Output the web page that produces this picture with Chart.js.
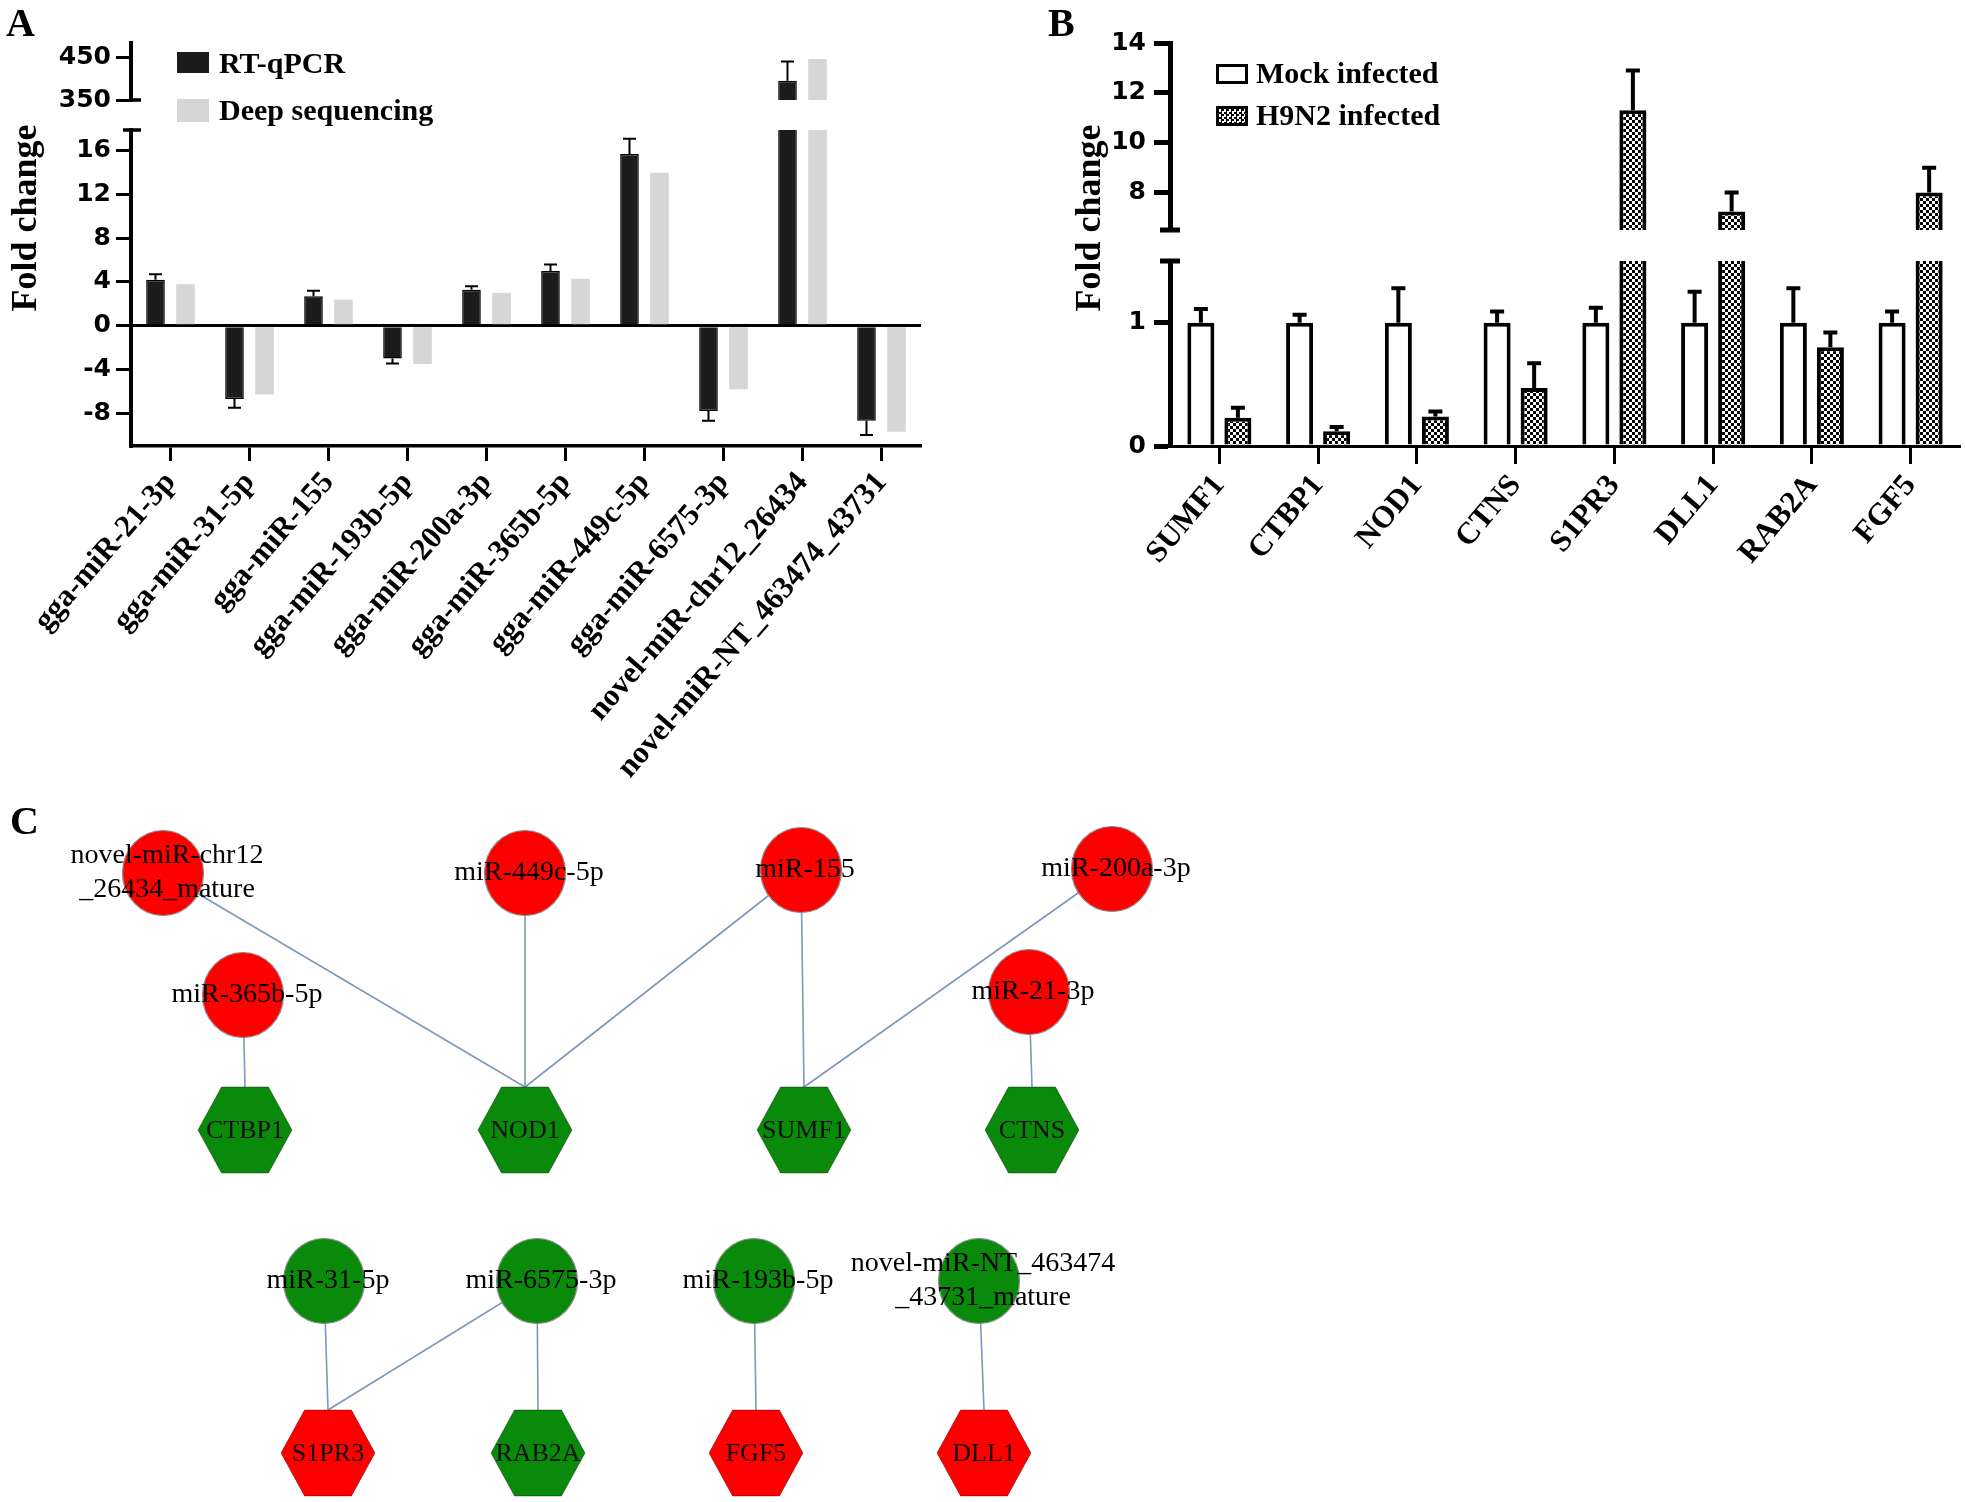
<!DOCTYPE html>
<html>
<head>
<meta charset="utf-8">
<script src="https://cdn.jsdelivr.net/npm/chart.js@4.4.1/dist/chart.umd.min.js"></script>
<style>
html, body { margin: 0; padding: 0; background: #fff; }
#page { position: relative; width: 1965px; height: 1502px; overflow: hidden; background: #fff; }
#page canvas { position: absolute; left: 0; top: 0; }
.txt { position: absolute; font-family: "Liberation Serif", "Times New Roman", serif; font-weight: bold; color: #000; white-space: nowrap; line-height: 1; z-index: 5; }
.panel { font-size: 40px; }
.leg { font-size: 30px; }
.ytitle { font-size: 36px; transform: translate(-50%, -50%) rotate(-90deg); }
.sw { position: absolute; box-sizing: border-box; z-index: 5; }
</style>
</head>
<body>
<div id="page">
  <canvas id="aHigh" width="1965" height="1502"></canvas>
  <canvas id="aLow" width="1965" height="1502"></canvas>
  <canvas id="bHigh" width="1965" height="1502"></canvas>
  <canvas id="bLow" width="1965" height="1502"></canvas>
  <canvas id="cNet" width="1965" height="1502"></canvas>

  <div class="txt panel" style="left:6px;top:3px">A</div>
  <div class="txt panel" style="left:1048px;top:3px">B</div>
  <div class="txt panel" style="left:10px;top:801px">C</div>

  <div class="txt ytitle" style="left:24px;top:218px">Fold change</div>
  <div class="txt ytitle" style="left:1088px;top:218px">Fold change</div>

  <div class="sw" style="left:177px;top:52px;width:32px;height:21px;background:#1c1c1c"></div>
  <div class="txt leg" style="left:219px;top:48px">RT-qPCR</div>
  <div class="sw" style="left:177px;top:99px;width:32px;height:23px;background:#d6d6d6"></div>
  <div class="txt leg" style="left:219px;top:95px">Deep sequencing</div>

  <div class="sw" style="left:1216px;top:64px;width:32px;height:20px;background:#fff;border:3px solid #000"></div>
  <div class="txt leg" style="left:1256px;top:58px">Mock infected</div>
  <div class="sw" style="left:1216px;top:106px;width:32px;height:20px;border:3px solid #000;background-color:#fff;background-image:repeating-conic-gradient(#000 0 25%, #fff 0 50%);background-size:5px 5px"></div>
  <div class="txt leg" style="left:1256px;top:100px">H9N2 infected</div>
</div>
<script>
// ===== Panel A: RT-qPCR vs deep sequencing =====
const mirLabels = ['gga-miR-21-3p', 'gga-miR-31-5p', 'gga-miR-155', 'gga-miR-193b-5p', 'gga-miR-200a-3p',
                   'gga-miR-365b-5p', 'gga-miR-449c-5p', 'gga-miR-6575-3p', 'novel-miR-chr12_26434', 'novel-miR-NT_463474_43731'];
const qpcrFold = [4.2, -6.7, 2.7, -3.0, 3.3, 5.0, 15.7, -7.8, 395, -8.7];
const qpcrErr  = [0.5, 0.8, 0.5, 0.45, 0.3, 0.6, 1.4, 0.9, 45, 1.3];
const seqFold  = [3.8, -6.3, 2.4, -3.5, 3.0, 4.3, 14.0, -5.8, 446, -9.7];
const aLowTicks  = [16, 12, 8, 4, 0, -4, -8];
const aHighTicks = [450, 350];

// ===== Panel B: target genes =====
const geneLabels = ['SUMF1', 'CTBP1', 'NOD1', 'CTNS', 'S1PR3', 'DLL1', 'RAB2A', 'FGF5'];
const mockFold = [1, 1, 1, 1, 1, 1, 1, 1];
const mockErr  = [0.11, 0.065, 0.28, 0.09, 0.12, 0.25, 0.28, 0.09];
const h9n2Fold = [0.23, 0.12, 0.24, 0.47, 11.3, 7.24, 0.80, 8.0];
const h9n2Err  = [0.08, 0.035, 0.04, 0.2, 1.6, 0.76, 0.12, 1.0];
const bLowTicks  = [1, 0];
const bHighTicks = [14, 12, 10, 8];

// ===== Panel C: miRNA - target network =====
const mirNodes = ['novel-miR-chr12\n_26434_mature', 'miR-449c-5p', 'miR-155', 'miR-200a-3p', 'miR-365b-5p',
                  'miR-21-3p', 'miR-31-5p', 'miR-6575-3p', 'miR-193b-5p', 'novel-miR-NT_463474\n_43731_mature'];
const mirX   = [163, 525, 801, 1112, 243, 1029, 324, 537, 754, 979];
const mirY   = [873, 873, 870, 869, 995, 992, 1281, 1281, 1281, 1281];
const mirReg = ['up', 'up', 'up', 'up', 'up', 'up', 'down', 'down', 'down', 'down'];
const geneNodes = ['CTBP1', 'NOD1', 'SUMF1', 'CTNS', 'S1PR3', 'RAB2A', 'FGF5', 'DLL1'];
const geneX   = [245, 525, 804, 1032, 328, 538, 756, 984];
const geneY   = [1130, 1130, 1130, 1130, 1453, 1453, 1453, 1453];
const geneReg = ['down', 'down', 'down', 'down', 'up', 'down', 'up', 'up'];
const edgeMir  = [0, 1, 2, 2, 3, 4, 5, 6, 7, 7, 8, 9];
const edgeGene = [1, 1, 1, 2, 2, 0, 3, 4, 4, 5, 6, 7];

const W = 1965, H = 1502;
const Y_BOX = 100, X_BOX = 420;

// error bars drawn from each bar's own element position
const errorBars = {
  id: 'errorBars',
  afterDatasetsDraw(chart, args, o) {
    const {ctx} = chart;
    const y = chart.scales.y;
    chart.data.datasets.forEach((ds, i) => {
      if (!ds.errors) return;
      chart.getDatasetMeta(i).data.forEach((bar, j) => {
        const v = ds.data[j];
        if (v < y.min || v > y.max) return;
        const tip = v >= 0 ? v + ds.errors[j] : v - ds.errors[j];
        const y0 = y.getPixelForValue(v), y1 = y.getPixelForValue(tip);
        ctx.save();
        ctx.strokeStyle = '#000';
        ctx.lineWidth = o.width;
        ctx.beginPath();
        ctx.moveTo(bar.x, y0); ctx.lineTo(bar.x, y1);
        ctx.moveTo(bar.x - o.cap / 2, y1); ctx.lineTo(bar.x + o.cap / 2, y1);
        ctx.stroke();
        ctx.restore();
      });
    });
  }
};

// little end marks where the y axis is broken
const breakCaps = {
  id: 'breakCaps',
  afterDraw(chart, args, o) {
    if (!o.lineWidth) return;
    const {ctx, chartArea: c} = chart;
    ctx.save();
    ctx.strokeStyle = '#000';
    ctx.lineWidth = o.lineWidth;
    ctx.beginPath();
    if (o.top) { ctx.moveTo(c.left - o.top[0], c.top); ctx.lineTo(c.left + o.top[1], c.top); }
    if (o.bottom) { ctx.moveTo(c.left - o.bottom[0], c.bottom); ctx.lineTo(c.left + o.bottom[1], c.bottom); }
    ctx.stroke();
    ctx.restore();
  }
};

function barPanel(id, p) {
  const a = p.area;
  const xScale = p.xAxis ? {
    offset: true,
    border: { display: true, color: '#000', width: p.xBorder },
    grid: { drawOnChartArea: false, offset: false, color: '#000', tickColor: '#000', tickLength: p.xTickLen, tickWidth: p.xTickW },
    ticks: { autoSkip: false, minRotation: p.rot, maxRotation: p.rot, padding: 4, color: '#000', font: p.xFont },
    afterFit(s) { s.height = X_BOX; s.paddingLeft = 0; s.paddingRight = 0; }
  } : { display: false, offset: true };

  return new Chart(document.getElementById(id), {
    type: 'bar',
    data: { labels: p.labels, datasets: p.datasets },
    options: {
      responsive: false,
      animation: false,
      devicePixelRatio: 1,
      layout: { autoPadding: false, padding: { left: a.left - Y_BOX, top: a.top, right: W - a.right, bottom: H - a.bottom - (p.xAxis ? X_BOX : 0) } },
      datasets: { bar: { clip: 0, categoryPercentage: p.catPct, barPercentage: p.barPct } },
      plugins: { legend: { display: false }, tooltip: { enabled: false }, errorBars: p.err, breakCaps: p.caps },
      scales: {
        x: xScale,
        y: {
          min: p.min, max: p.max,
          afterBuildTicks(s) { s.ticks = p.ticks.map(v => ({ value: v })); },
          border: { display: true, color: '#000', width: p.yBorder },
          grid: {
            color: c => (p.zeroLine && c.tick && c.tick.value === 0) ? '#000' : 'rgba(0,0,0,0)',
            lineWidth: 3, tickColor: '#000', tickLength: p.yTickLen, tickWidth: p.yTickW
          },
          ticks: { padding: p.yPad, color: '#000', font: { family: 'DejaVu Sans', size: 25, weight: 'bold' } },
          afterFit(s) { s.width = Y_BOX; s.paddingTop = 0; s.paddingBottom = 0; }
        }
      }
    },
    plugins: [errorBars, breakCaps]
  });
}

const labelFont = { family: 'Liberation Serif', size: 31, weight: 'bold' };

// ----- Panel A -----
const aSets = () => [
  { label: 'RT-qPCR', data: qpcrFold, errors: qpcrErr, backgroundColor: '#1c1c1c', borderColor: '#000', borderWidth: 1.5 },
  { label: 'Deep sequencing', data: seqFold, backgroundColor: '#d6d6d6', borderWidth: 0 }
];
const aCommon = {
  labels: mirLabels, catPct: 0.76, barPct: 0.62, yBorder: 4, yTickLen: 15, yTickW: 3, yPad: 5,
  err: { width: 2, cap: 13 }
};
barPanel('aHigh', Object.assign({}, aCommon, {
  datasets: aSets(), area: { left: 131, right: 921, top: 43, bottom: 100 },
  min: 350, max: 483.5, ticks: aHighTicks, xAxis: false,
  caps: { lineWidth: 3.5, bottom: [0, 10] }
}));
barPanel('aLow', Object.assign({}, aCommon, {
  datasets: aSets(), area: { left: 131, right: 921, top: 130, bottom: 446 },
  min: -11, max: 17.9, ticks: aLowTicks, zeroLine: true, xAxis: true,
  xBorder: 3.5, xTickLen: 15, xTickW: 3, rot: 49, xFont: labelFont,
  caps: { lineWidth: 3.5, top: [8, 10] }
}));

// ----- Panel B -----
function checker() {
  const c = document.createElement('canvas');
  c.width = 6; c.height = 6;
  const g = c.getContext('2d');
  g.fillStyle = '#fff'; g.fillRect(0, 0, 6, 6);
  g.fillStyle = '#000'; g.fillRect(0, 0, 3, 3); g.fillRect(3, 3, 3, 3);
  return g.createPattern(c, 'repeat');
}
const bSets = () => [
  { label: 'Mock infected', data: mockFold, errors: mockErr, backgroundColor: '#fff', borderColor: '#000', borderWidth: 4 },
  { label: 'H9N2 infected', data: h9n2Fold, errors: h9n2Err, backgroundColor: checker(), borderColor: '#000', borderWidth: 4 }
];
const bCommon = {
  labels: geneLabels, catPct: 0.75, barPct: 0.73, yBorder: 5, yTickLen: 16, yTickW: 5, yPad: 8,
  err: { width: 4, cap: 14 }
};
barPanel('bHigh', Object.assign({}, bCommon, {
  datasets: bSets(), area: { left: 1170, right: 1960, top: 43, bottom: 230 },
  min: 6.5, max: 14, ticks: bHighTicks, xAxis: false,
  caps: { lineWidth: 5, bottom: [10, 10] }
}));
barPanel('bLow', Object.assign({}, bCommon, {
  datasets: bSets(), area: { left: 1170, right: 1960, top: 261, bottom: 446 },
  min: 0, max: 1.5, ticks: bLowTicks, xAxis: true,
  xBorder: 3, xTickLen: 18, xTickW: 3, rot: 50, xFont: labelFont,
  caps: { lineWidth: 5, top: [10, 10] }
}));

// ----- Panel C -----
const RED = '#ff0000', GREEN = '#0a8a0a';
const HEX_W = 94, HEX_H = 86;
function ellipseSprite(fill) {
  const c = document.createElement('canvas');
  c.width = 84; c.height = 88;
  const g = c.getContext('2d');
  g.beginPath();
  g.ellipse(42, 44, 40.5, 42.5, 0, 0, Math.PI * 2);
  g.fillStyle = fill; g.fill();
  g.lineWidth = 1.2; g.strokeStyle = '#8c8c8c'; g.stroke();
  return c;
}
function hexSprite(fill) {
  const c = document.createElement('canvas');
  c.width = HEX_W + 2; c.height = HEX_H + 2;
  const g = c.getContext('2d');
  const w = HEX_W, h = HEX_H;
  g.beginPath();
  g.moveTo(1, 1 + h / 2); g.lineTo(1 + w / 4, 1); g.lineTo(1 + 3 * w / 4, 1);
  g.lineTo(1 + w, 1 + h / 2); g.lineTo(1 + 3 * w / 4, 1 + h); g.lineTo(1 + w / 4, 1 + h);
  g.closePath();
  g.fillStyle = fill; g.fill();
  g.lineWidth = 1; g.strokeStyle = 'rgba(0,0,0,0.35)'; g.stroke();
  return c;
}
const sprites = {
  mir: { up: ellipseSprite(RED), down: ellipseSprite(GREEN) },
  gene: { up: hexSprite(RED), down: hexSprite(GREEN) }
};

const networkEdges = {
  id: 'networkEdges',
  beforeDatasetsDraw(chart) {
    const {ctx, scales: {x, y}} = chart;
    ctx.save();
    ctx.strokeStyle = '#7f97b8';
    ctx.lineWidth = 1.6;
    edgeMir.forEach((m, k) => {
      const g = edgeGene[k];
      ctx.beginPath();
      ctx.moveTo(x.getPixelForValue(mirX[m]), y.getPixelForValue(mirY[m]));
      ctx.lineTo(x.getPixelForValue(geneX[g]), y.getPixelForValue(geneY[g]) - HEX_H / 2);
      ctx.stroke();
    });
    ctx.restore();
  }
};
const nodeLabels = {
  id: 'nodeLabels',
  afterDatasetsDraw(chart) {
    const {ctx, scales: {x, y}} = chart;
    ctx.save();
    ctx.fillStyle = '#000';
    ctx.textAlign = 'center';
    ctx.textBaseline = 'middle';
    ctx.font = '28px "Liberation Serif"';
    mirNodes.forEach((name, i) => {
      const lines = name.split('\n');
      const px = x.getPixelForValue(mirX[i]) + 4, py = y.getPixelForValue(mirY[i]);
      lines.forEach((t, k) => ctx.fillText(t, px, py + (k - (lines.length - 1) / 2) * 34));
    });
    ctx.font = '26px "Liberation Serif"';
    ctx.fillStyle = '#111';
    geneNodes.forEach((name, i) => {
      ctx.fillText(name, x.getPixelForValue(geneX[i]), y.getPixelForValue(geneY[i]) + 1);
    });
    ctx.restore();
  }
};

new Chart(document.getElementById('cNet'), {
  type: 'scatter',
  data: {
    datasets: [
      { label: 'miRNA', data: mirX.map((v, i) => ({ x: v, y: mirY[i] })),
        pointStyle: mirReg.map(r => sprites.mir[r]), pointRadius: 40, order: 0 },
      { label: 'target', data: geneX.map((v, i) => ({ x: v, y: geneY[i] })),
        pointStyle: geneReg.map(r => sprites.gene[r]), pointRadius: 40, order: 0 }
    ]
  },
  options: {
    responsive: false,
    animation: false,
    devicePixelRatio: 1,
    layout: { autoPadding: false, padding: 0 },
    scales: {
      x: { display: false, min: 0, max: W },
      y: { display: false, min: 0, max: H, reverse: true }
    },
    plugins: { legend: { display: false }, tooltip: { enabled: false } }
  },
  plugins: [networkEdges, nodeLabels]
});
</script>
</body>
</html>
